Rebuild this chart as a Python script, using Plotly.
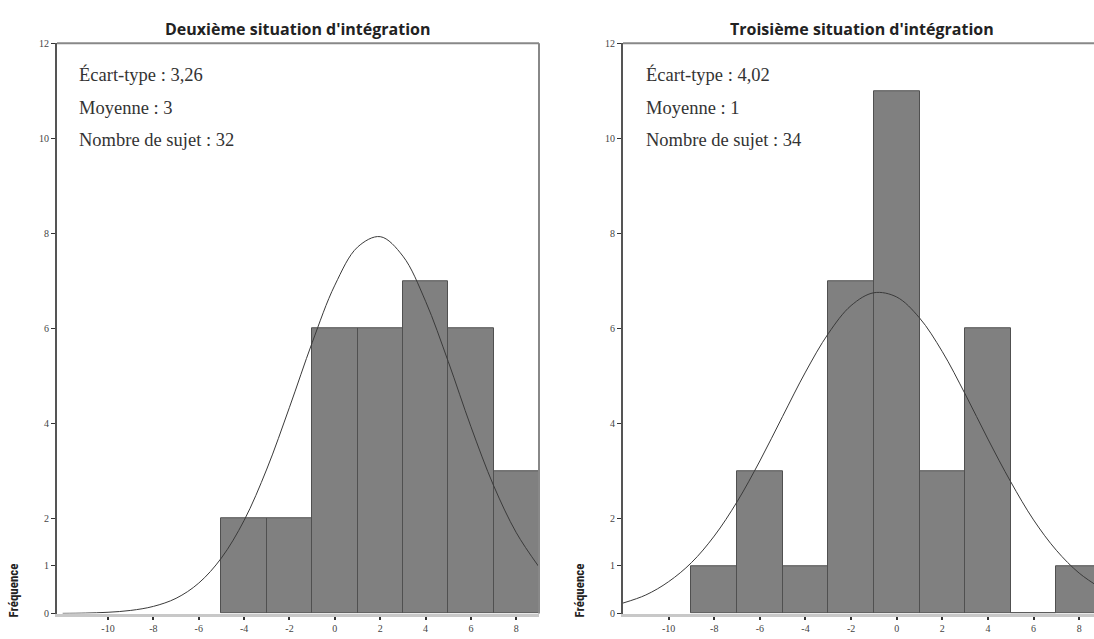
import plotly.graph_objects as go

W, H = 1094, 639

# ---- data ----
left_bin_centers = [-4, -2, 0, 2, 4, 6, 8]
left_counts = [2, 2, 6, 6, 7, 6, 3]
right_bin_centers = [-8, -6, -4, -2, 0, 2, 4, 6, 8]
right_counts = [1, 3, 1, 7, 11, 3, 6, 0, 1]
bin_width = 2

curve_x = list(range(-12, 10))
left_curve_y = [0.003, 0.009, 0.026, 0.065, 0.15, 0.32, 0.64, 1.17, 1.96, 3.04, 4.34,
                5.70, 6.91, 7.71, 7.93, 7.52, 6.57, 5.30, 3.93, 2.69, 1.70, 0.98]
right_curve_y = [0.22, 0.39, 0.67, 1.07, 1.63, 2.35, 3.21, 4.15, 5.08, 5.89, 6.48,
                 6.75, 6.66, 6.22, 5.51, 4.62, 3.67, 2.77, 1.97, 1.33, 0.85, 0.52]

titles = ["Deuxième situation d'intégration", "Troisième situation d'intégration"]
left_stats = ["Écart-type : 3,26", "Moyenne : 3", "Nombre de sujet : 32"]
right_stats = ["Écart-type : 4,02", "Moyenne : 1", "Nombre de sujet : 34"]
y_ticks = [0, 1, 2, 4, 6, 8, 10, 12]
x_ticks = [-10, -8, -6, -4, -2, 0, 2, 4, 6, 8]
y_label = "Fréquence"


def ypx(p):
    """pixel row (from top) -> paper fraction, with small vertical correction"""
    yi = (p - 4.7) / 0.9825
    return 1 - yi / H


# ---- figure ----
fig = go.Figure()
bar_style = dict(marker=dict(color="#808080", line=dict(color="#505050", width=1)),
                 width=bin_width, showlegend=False, hoverinfo="skip")
fig.add_trace(go.Bar(x=left_bin_centers, y=left_counts, xaxis="x", yaxis="y", **bar_style))
fig.add_trace(go.Bar(x=right_bin_centers, y=right_counts, xaxis="x2", yaxis="y2", **bar_style))
line_style = dict(mode="lines", line=dict(color="#3a3a3a", width=1, shape="spline"),
                  showlegend=False, hoverinfo="skip")
fig.add_trace(go.Scatter(x=curve_x, y=left_curve_y, xaxis="x", yaxis="y", **line_style))
fig.add_trace(go.Scatter(x=curve_x, y=right_curve_y, xaxis="x2", yaxis="y2", **line_style))

ybot = ypx(613)
ytop = ypx(42)
ldom = [57 / W, 539 / W]
rdom = [623 / W, 1.0]

tickfont = dict(family="Liberation Serif, serif", size=10, color="#444")
xcommon = dict(tickvals=x_ticks, ticktext=[str(v) for v in x_ticks], showgrid=False,
               zeroline=False, showline=True, linecolor="#c8c8c8", linewidth=3,
               ticks="outside", ticklen=3, tickwidth=2, tickcolor="#333",
               tickfont=tickfont, fixedrange=True)
ycommon = dict(range=[0, 12], tickvals=y_ticks, ticktext=[str(v) for v in y_ticks],
               showgrid=False, zeroline=False, showline=True, linecolor="#555",
               linewidth=2, ticks="outside", ticklen=4, tickwidth=1, tickcolor="#333",
               tickfont=tickfont, domain=[ybot, ytop], fixedrange=True)

fig.update_layout(
    width=W, height=H,
    margin=dict(l=0, r=0, t=0, b=0),
    paper_bgcolor="white", plot_bgcolor="white",
    bargap=0,
    xaxis=dict(domain=ldom, range=[-12.25, 9], anchor="y", **xcommon),
    yaxis=dict(anchor="x", **ycommon),
    xaxis2=dict(domain=rdom, range=[-12, 8.65], anchor="y2", **xcommon),
    yaxis2=dict(anchor="x2", **ycommon),
)

# frame lines (top and right)
for xr, yr, right in [("x domain", "y domain", True), ("x2 domain", "y2 domain", False)]:
    fig.add_shape(type="line", xref=xr, yref=yr, x0=0, x1=1, y0=1, y1=1,
                  line=dict(color="#888", width=2))
    if right:
        fig.add_shape(type="line", xref=xr, yref=yr, x0=1, x1=1, y0=0, y1=1,
                      line=dict(color="#888", width=2))

# titles
for txt, cx in zip(titles, [298, 862]):
    fig.add_annotation(text="<b>" + txt + "</b>", x=cx / W, y=ypx(28), xref="paper",
                       yref="paper", showarrow=False, xanchor="center", yanchor="middle",
                       font=dict(family="Open Sans, sans-serif", size=16, color="#222"))

# stats text
for stats, lx in [(left_stats, 77), (right_stats, 644)]:
    for txt, py in zip(stats, [73, 107, 139]):
        fig.add_annotation(text=txt, x=lx / W, y=ypx(py), xref="paper", yref="paper",
                           showarrow=False, xanchor="left", yanchor="middle",
                           font=dict(family="Liberation Serif, serif", size=18.5, color="#333"))

# y labels
for lx in [14, 580]:
    fig.add_annotation(text="<b>" + y_label + "</b>", x=lx / W, y=ypx(590),
                       xref="paper", yref="paper", showarrow=False, textangle=-90,
                       xanchor="center", yanchor="middle",
                       font=dict(family="Liberation Sans Narrow, Roboto Condensed, Open Sans, sans-serif",
                                 size=13, color="#222"))

post = ("document.documentElement.style.overflow='hidden';"
        "document.body.style.margin='0';document.body.style.overflow='hidden';"
        "var d=document.getElementById('{plot_id}');"
        "d.style.position='fixed';d.style.top='0px';d.style.left='0px';")
fig.write_html("out.html", config={"displayModeBar": False}, post_script=post)
